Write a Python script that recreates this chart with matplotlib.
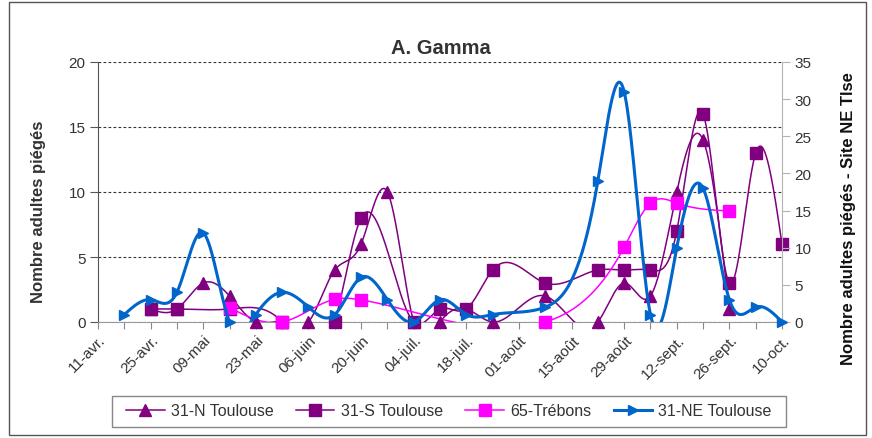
import numpy as np
import matplotlib
matplotlib.use("Agg")
import matplotlib.pyplot as plt
from matplotlib.lines import Line2D
from matplotlib.patches import Rectangle

plt.rcParams['font.family'] = ['Liberation Sans', 'DejaVu Sans']

# ---- data (week index 0 = 11-avr., weekly steps) ----
weeks = list(range(27))
tick_labels = ['11-avr.', '25-avr.', '09-mai', '23-mai', '06-juin', '20-juin', '04-juil.',
               '18-juil.', '01-août', '15-août', '29-août', '12-sept.', '26-sept.', '10-oct.']
N = None
n_toulouse = [N, N, 1, 1, 3, 2, 0, 0, 0, 4, 6, 10, 0, 0, 1, 0, N, 2, N, 0, 3, 2, 10, 14, 1, N, N]
s_toulouse = [N, N, 1, 1, N, 1, N, 0, N, 0, 8, N, 0, 1, 1, 4, N, 3, N, 4, 4, 4, 7, 16, 3, 13, 6]
trebons = [N, N, N, N, N, 1.1, N, 0, N, 1.75, 1.7, N, N, N, N, N, N, 0, N, N, 5.75, 9.15, 9.15, N, 8.55, N, N]
ne_toulouse = [N, 1, 3, 4, 12, 0, 1, 4, 2, 1, 6, 3, 0, 3, 1, 1, N, 2, N, 19, 31, 1, 10, 18, 3, 2, 0]

series_names = ['31-N Toulouse', '31-S Toulouse', '65-Trébons', '31-NE Toulouse']


def natural_spline(x, y, xs):
    x = np.asarray(x, float)
    y = np.asarray(y, float)
    n = len(x)
    h = np.diff(x)
    A = np.zeros((n, n))
    b = np.zeros(n)
    A[0, 0] = 1
    A[-1, -1] = 1
    for i in range(1, n - 1):
        A[i, i - 1] = h[i - 1]
        A[i, i] = 2 * (h[i - 1] + h[i])
        A[i, i + 1] = h[i]
        b[i] = 6 * ((y[i + 1] - y[i]) / h[i] - (y[i] - y[i - 1]) / h[i - 1])
    M = np.linalg.solve(A, b)
    idx = np.clip(np.searchsorted(x, xs) - 1, 0, n - 2)
    x0 = x[idx]
    x1 = x[idx + 1]
    hh = x1 - x0
    a = x1 - xs
    c = xs - x0
    return (M[idx] * a ** 3 / (6 * hh) + M[idx + 1] * c ** 3 / (6 * hh)
            + (y[idx] / hh - M[idx] * hh / 6) * a + (y[idx + 1] / hh - M[idx + 1] * hh / 6) * c)


def valid(vals):
    xs = [w for w, v in zip(weeks, vals) if v is not None]
    ys = [v for v in vals if v is not None]
    return np.array(xs, float), np.array(ys, float)


W, H = 872, 439
fig = plt.figure(figsize=(W / 100, H / 100), dpi=100)
L, R, T, B = 98, 782, 63, 323
ax = fig.add_axes([L / W, 1 - B / H, (R - L) / W, (B - T) / H])
ax2 = ax.twinx()

purple = '#800080'
pink = '#FF00FF'
blue = '#0066CC'

styles = [
    (n_toulouse, ax, purple, '^', 1.1, 9),
    (s_toulouse, ax, purple, 's', 1.1, 9),
    (trebons, ax, pink, 's', 1.1, 9),
    (ne_toulouse, ax2, blue, '>', 2.2, 7),
]
handles = []
for (vals, a, col, mk, lw, ms), name in zip(styles, series_names):
    xs, ys = valid(vals)
    xd = np.linspace(xs[0], xs[-1], 2000)
    yd = natural_spline(xs, ys, xd)
    a.plot(xd, yd, color=col, lw=lw, solid_capstyle='round', zorder=3)
    a.plot(xs, ys, linestyle='none', marker=mk, color=col, ms=ms, mec=col, clip_on=False, zorder=4)
    handles.append(Line2D([], [], color=col, lw=lw, marker=mk, ms=ms, mec=col))

ax.set_xlim(0, 26)
ax.set_ylim(0, 20)
ax2.set_ylim(0, 35)
ax.set_yticks([0, 5, 10, 15, 20])
ax2.set_yticks(range(0, 36, 5))
ax.set_xticks(weeks)
ax.set_xticklabels([])
for i in range(0, 27, 2):
    ax.annotate(tick_labels[i // 2], xy=(i, 0), xycoords=('data', 'axes fraction'),
                xytext=(4, -11), textcoords='offset points', rotation=45, ha='right', va='center',
                rotation_mode='anchor', fontsize=11, color='#333333', annotation_clip=False)
ax.tick_params(axis='x', length=5, color='#888888')
ax.tick_params(axis='y', length=6, color='#555555', labelsize=11, labelcolor='#333333', pad=3)
ax2.tick_params(axis='y', length=6, color='#b3b3b3', labelsize=11, labelcolor='#333333', pad=3)

for a in (ax, ax2):
    a.spines['top'].set_visible(False)
ax.spines['left'].set_color('#555555')
ax.spines['bottom'].set_color('#999999')
ax2.spines['right'].set_color('#b3b3b3')
ax2.spines['left'].set_visible(False)
ax2.spines['bottom'].set_visible(False)
ax.spines['right'].set_visible(False)

ax.yaxis.grid(True, linestyle=(0, (2.5, 2)), color='#333333', lw=0.8)
ax.set_axisbelow(True)
ax.patch.set_visible(False)

fig.text(38 / W, 1 - 212 / H, 'Nombre adultes piégés', rotation=90, ha='center', va='center',
         fontsize=12, fontweight='bold', color='#333333')
fig.text(848 / W, 1 - 219 / H, 'Nombre adultes piégés - Site NE Tlse', rotation=90, ha='center', va='center',
         fontsize=12, fontweight='bold', color='#111111')

fig.text(441 / W, 1 - 48 / H, 'A. Gamma', ha='center', va='center', fontsize=14.5, fontweight='bold', color='#333333')

leg = fig.legend(handles, series_names, loc='center', bbox_to_anchor=(449 / W, 1 - 412 / H), ncol=4,
                 frameon=False, fontsize=11.5, handlelength=2.4,
                 columnspacing=1.4, handletextpad=0.4, borderpad=0.4)
for t in leg.get_texts():
    t.set_color('#333333')
fig.patches.append(Rectangle((112 / W, 1 - 428 / H), (786 - 112) / W, 31 / H, transform=fig.transFigure,
                             fill=False, edgecolor='#888888', lw=1.0))

fig.patches.append(Rectangle((9 / W, 3 / H), (866 - 9) / W, (436 - 3) / H, transform=fig.transFigure,
                             fill=False, edgecolor='#555555', lw=1.0))

fig.savefig('out.png', dpi=100)
